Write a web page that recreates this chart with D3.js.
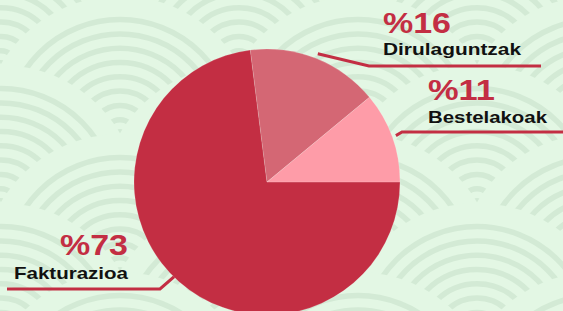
<!DOCTYPE html>
<html><head><meta charset="utf-8">
<script src="https://cdn.jsdelivr.net/npm/d3@7"></script>
<style>html,body{margin:0;padding:0;background:#e3f7e4;overflow:hidden}</style>
</head><body>
<svg id="c" width="563" height="311"></svg>
<script>
const categories = ["Fakturazioa", "Dirulaguntzak", "Bestelakoak"];
const values = [73, 16, 11];
const labels = ["%73", "%16", "%11"];
const colors = ["#c32e43", "#d46774", "#fe9ca8"];

const W = 563, H = 311;
const svg = d3.select("#c");
const bg = "#e3f7e4", ring = "#d3ead5";

// seigaiha background
svg.append("rect").attr("width", W).attr("height", H).attr("fill", bg);
const gBg = svg.append("g");
const sw = 119, sh = 69, ox = 120, oy = 134, RD = 138;
for (let j = -3; j <= 5; j++) {
  for (let i = -3; i <= 6; i++) {
    if ((i + j) % 2 !== 0) continue;
    const x0 = ox + i * sw, y0 = oy + j * sh;
    const g = gBg.append("g").attr("transform", `translate(${x0},${y0})`);
    g.append("circle").attr("r", RD).attr("fill", bg);
    g.append("circle").attr("r", 5).attr("fill", ring);
    for (let k = 1; k <= 8; k++) {
      g.append("circle").attr("r", k * 14.3).attr("fill", "none")
        .attr("stroke", ring).attr("stroke-width", 5.5);
    }
  }
}

const cx = 267, cy = 182, radius = 133;
const pie = d3.pie().sort(null).startAngle(Math.PI / 2).endAngle(Math.PI / 2 + 2 * Math.PI);
const arcs = pie(values);
const arc = d3.arc().innerRadius(0).outerRadius(radius);
const red = "#c32e43";

const pt = (a, r) => [cx + r * Math.sin(a), cy - r * Math.cos(a)];
const mid = d => (d.startAngle + d.endAngle) / 2;

// leader lines
const line = d3.line();
const leaders = [
  [pt(mid(arcs[0]), 80), [160, 289], [7, 289]],
  [pt(mid(arcs[1]), 138), [369, 66], [541, 66]],
  [pt(mid(arcs[2]), 137), [402, 132], [570, 132]]
];
svg.append("g").selectAll("path").data(leaders).join("path")
  .attr("d", d => line(d)).attr("fill", "none").attr("stroke", red)
  .attr("stroke-width", 3);

svg.append("g").attr("transform", `translate(${cx},${cy})`)
  .selectAll("path").data(arcs).join("path")
  .attr("d", arc).attr("fill", (d, i) => colors[i])
  .attr("stroke", "rgba(255,255,255,0.25)").attr("stroke-width", 0.6);

// labels
const lab = [
  {x: 128, y1: 255, y2: 279, anchor: "end", w1: 68, w2: 114},
  {x: 383, y1: 33, y2: 55, anchor: "start", w1: 68, w2: 138},
  {x: 428, y1: 100, y2: 123, anchor: "start", w1: 67, w2: 119}
];
const font = "'Liberation Sans', Arial, sans-serif";
const gl = svg.append("g");
lab.forEach((p, i) => {
  gl.append("text").attr("x", p.x).attr("y", p.y1).attr("text-anchor", p.anchor)
    .attr("font-family", font).attr("font-weight", 700).attr("font-size", 30)
    .attr("textLength", p.w1).attr("lengthAdjust", "spacingAndGlyphs")
    .attr("fill", red).text(labels[i]);
  gl.append("text").attr("x", p.x).attr("y", p.y2).attr("text-anchor", p.anchor)
    .attr("font-family", font).attr("font-weight", 700).attr("font-size", 17)
    .attr("textLength", p.w2).attr("lengthAdjust", "spacingAndGlyphs")
    .attr("fill", "#111").text(categories[i]);
});
</script>
</body></html>
